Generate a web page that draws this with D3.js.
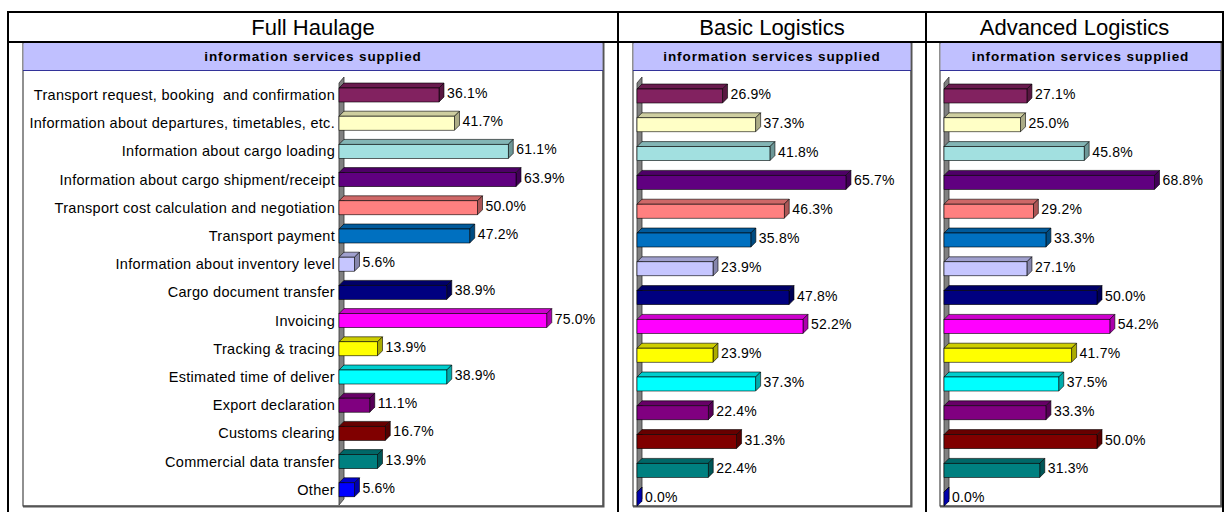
<!DOCTYPE html>
<html lang="en">
<head>
  <meta charset="UTF-8">
  <title>Information services supplied</title>
  <script src="https://d3js.org/d3.v7.min.js"></script>
  <style>
    html, body {
      margin: 0;
      padding: 0;
      background: #fff;
    }
    svg text {
      font-family: "Liberation Sans", Arial, Helvetica, sans-serif;
      fill: #000;
    }
    .cat-label {
      font-size: 14.5px;
      letter-spacing: 0.3px;
    }
    .val-label {
      font-size: 14px;
      letter-spacing: 0.2px;
    }
    .panel-title {
      font-size: 13.5px;
      font-weight: bold;
      letter-spacing: 0.9px;
    }
    .col-title {
      font-size: 22px;
    }
  </style>
</head>
<body>
  <div id="container"></div>

  <script>
    const width = 1225;
    const height = 512;

    const categories = [
      "Transport request, booking  and confirmation",
      "Information about departures, timetables, etc.",
      "Information about cargo loading",
      "Information about cargo shipment/receipt",
      "Transport cost calculation and negotiation",
      "Transport payment",
      "Information about inventory level",
      "Cargo document transfer",
      "Invoicing",
      "Tracking & tracing",
      "Estimated time of deliver",
      "Export declaration",
      "Customs clearing",
      "Commercial data transfer",
      "Other"
    ];

    const fullHaulage       = [36.1, 41.7, 61.1, 63.9, 50.0, 47.2, 5.6, 38.9, 75.0, 13.9, 38.9, 11.1, 16.7, 13.9, 5.6];
    const basicLogistics    = [26.9, 37.3, 41.8, 65.7, 46.3, 35.8, 23.9, 47.8, 52.2, 23.9, 37.3, 22.4, 31.3, 22.4, 0.0];
    const advancedLogistics = [27.1, 25.0, 45.8, 68.8, 29.2, 33.3, 27.1, 50.0, 54.2, 41.7, 37.5, 33.3, 50.0, 31.3, 0.0];

    const columnTitles = ["Full Haulage", "Basic Logistics", "Advanced Logistics"];
    const panelTitle = "information services supplied";

    const barColors = [
      "#822260", "#ffffc6", "#a2e0e0", "#600080", "#ff8080",
      "#0070c0", "#c6c6ff", "#000080", "#ff00ff", "#ffff00",
      "#00ffff", "#800080", "#800000", "#008080", "#0000ff"
    ];

    // layout of the three columns (outer cell, inner panel, plot)
    const panels = [
      { values: fullHaulage,       cell: [8, 618],    box: [23, 603],   x0: 339, pxPerPct: 2.77, first: 95, step: 28.2, labels: true },
      { values: basicLogistics,    cell: [618, 926],  box: [633, 911],  x0: 637, pxPerPct: 3.18, first: 96, step: 28.8, labels: false },
      { values: advancedLogistics, cell: [926, 1223], box: [940, 1221], x0: 944, pxPerPct: 3.06, first: 96, step: 28.8, labels: false }
    ];

    const headerTop = 12, headerBottom = 43;
    const titleBottom = 70, boxBottom = 506;
    const barH = 14, dx = 5, dy = 5;

    const svg = d3.select('#container').append('svg')
      .attr('width', width).attr('height', height);

    panels.forEach((p, pi) => {
      const g = svg.append('g');

      // inner panel box
      g.append('rect')
        .attr('x', p.box[0]).attr('y', headerBottom)
        .attr('width', p.box[1] - p.box[0]).attr('height', boxBottom - headerBottom)
        .attr('fill', '#fff').attr('stroke', '#222').attr('stroke-width', 1);
      // shadow on right and bottom
      g.append('path')
        .attr('d', `M${p.box[1] + 0.5},${headerBottom}V${boxBottom + 0.5}H${p.box[0]}`)
        .attr('fill', 'none').attr('stroke', '#555').attr('stroke-width', 2);

      // title band
      g.append('rect')
        .attr('x', p.box[0] + 0.5).attr('y', headerBottom)
        .attr('width', p.box[1] - p.box[0] - 1).attr('height', titleBottom - headerBottom)
        .attr('fill', '#c0c0ff');
      g.append('line')
        .attr('x1', p.box[0]).attr('x2', p.box[1])
        .attr('y1', titleBottom + 0.5).attr('y2', titleBottom + 0.5)
        .attr('stroke', '#333399').attr('stroke-width', 1);
      g.append('text').attr('class', 'panel-title')
        .attr('x', (p.box[0] + p.box[1]) / 2).attr('y', 61)
        .attr('text-anchor', 'middle')
        .text(panelTitle);

      // scales
      const x = d3.scaleLinear().domain([0, 100]).range([p.x0, p.x0 + 100 * p.pxPerPct]);
      const y = d3.scaleBand().domain(categories)
        .range([p.first - p.step / 2, p.first - p.step / 2 + categories.length * p.step]);
      const cy = c => y(c) + y.bandwidth() / 2;

      // side wall
      const wTop = 77, wBot = boxBottom - 1;
      g.append('polygon')
        .attr('points', [[x(0), wTop + dy + 1], [x(0) + dx, wTop], [x(0) + dx, wBot - dy - 1], [x(0), wBot]].join(' '))
        .attr('fill', '#808080').attr('stroke', '#333').attr('stroke-width', 0.8);

      const rows = categories.map((c, i) => ({ c, v: p.values[i], color: barColors[i] }));

      const bar = g.selectAll('g.bar').data(rows).enter().append('g').attr('class', 'bar');

      // top face
      bar.append('polygon')
        .attr('points', d => {
          const t = cy(d.c) - barH / 2, a = x(0), b = x(d.v);
          return [[a, t], [a + dx, t - dy], [b + dx, t - dy], [b, t]].join(' ');
        })
        .attr('fill', d => d3.color(d.color).darker(0.6))
        .attr('stroke', '#000').attr('stroke-width', 0.6);

      // right face
      bar.append('polygon')
        .attr('points', d => {
          const t = cy(d.c) - barH / 2, b = x(d.v);
          return [[b, t], [b + dx, t - dy], [b + dx, t + barH - dy], [b, t + barH]].join(' ');
        })
        .attr('fill', d => d3.color(d.color).darker(1.1))
        .attr('stroke', '#000').attr('stroke-width', 0.6);

      // front face
      bar.append('rect')
        .attr('x', x(0))
        .attr('y', d => cy(d.c) - barH / 2)
        .attr('width', d => x(d.v) - x(0))
        .attr('height', barH)
        .attr('fill', d => d.color)
        .attr('stroke', '#000').attr('stroke-width', 0.6);

      // value labels
      bar.append('text').attr('class', 'val-label')
        .attr('x', d => x(d.v) + dx + 3)
        .attr('y', d => cy(d.c) + 3)
        .text(d => d.v.toFixed(1) + '%');

      // category labels
      if (p.labels) {
        g.selectAll('text.cat-label').data(categories).enter().append('text')
          .attr('class', 'cat-label')
          .attr('x', x(0) - 4)
          .attr('y', d => cy(d) + 5)
          .attr('text-anchor', 'end')
          .attr('xml:space', 'preserve')
          .text(d => d);
      }

      // column heading
      svg.append('text').attr('class', 'col-title')
        .attr('x', (p.cell[0] + p.cell[1]) / 2).attr('y', 35)
        .attr('text-anchor', 'middle')
        .text(columnTitles[pi]);
    });

    // outer table lines
    const grid = svg.append('g').attr('stroke', '#000').attr('stroke-width', 2);
    grid.append('line').attr('x1', 7).attr('x2', 1224).attr('y1', headerTop).attr('y2', headerTop);
    grid.append('line').attr('x1', 7).attr('x2', 1224).attr('y1', headerBottom - 1).attr('y2', headerBottom - 1);
    [8, 618, 926, 1223].forEach(v => {
      grid.append('line').attr('x1', v).attr('x2', v).attr('y1', headerTop - 1).attr('y2', height);
    });
  </script>
</body>
</html>
